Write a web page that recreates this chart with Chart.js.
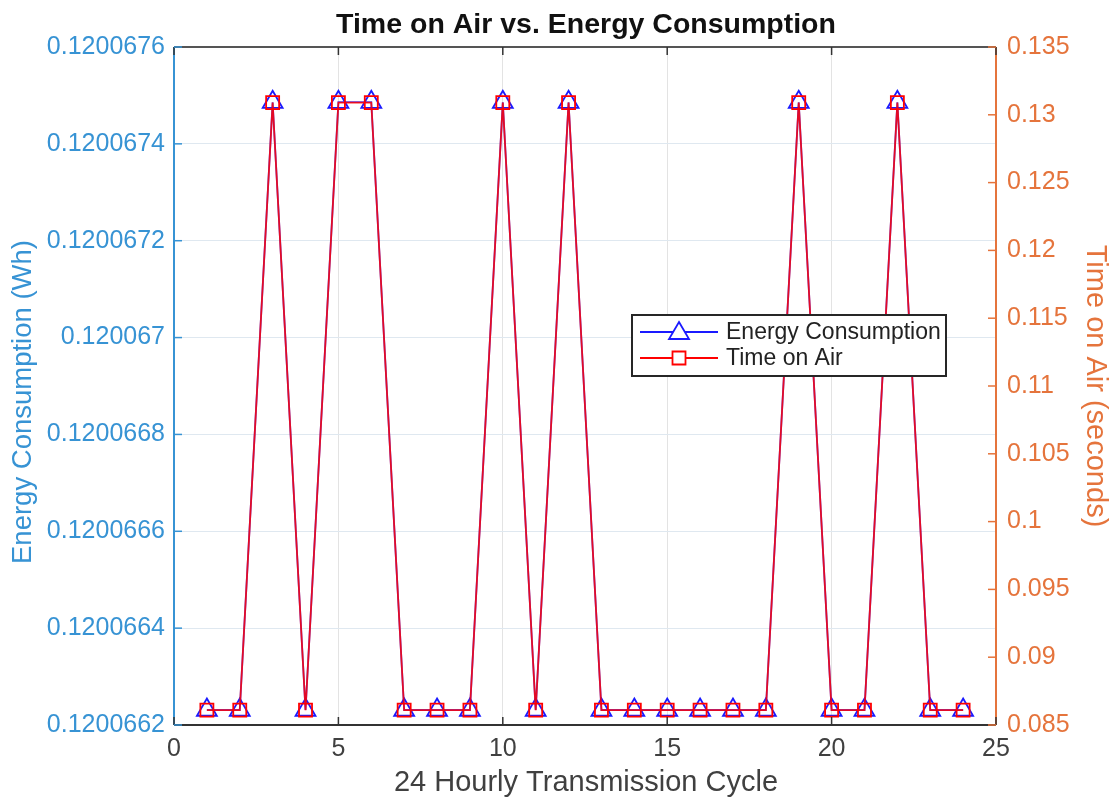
<!DOCTYPE html>
<html>
<head>
<meta charset="utf-8">
<script src="https://cdn.jsdelivr.net/npm/chart.js@4.4.1/dist/chart.umd.min.js"></script>
<style>
html,body{margin:0;padding:0;background:#fff;}
#wrap{width:1115px;height:799px;position:relative;}
</style>
</head>
<body>
<div id="wrap"><canvas id="c" width="1115" height="799"></canvas></div>
<script>
const hours = [1,2,3,4,5,6,7,8,9,10,11,12,13,14,15,16,17,18,19,20,21,22,23,24];
const energyWh = [0.120066231,0.120066231,0.120067486,0.120066231,0.120067486,0.120067486,0.120066231,0.120066231,0.120066231,0.120067486,0.120066231,0.120067486,0.120066231,0.120066231,0.120066231,0.120066231,0.120066231,0.120066231,0.120067486,0.120066231,0.120066231,0.120067486,0.120066231,0.120066231];
const timeOnAir = [0.0861,0.0861,0.1309,0.0861,0.1309,0.1309,0.0861,0.0861,0.0861,0.1309,0.0861,0.1309,0.0861,0.0861,0.0861,0.0861,0.0861,0.0861,0.1309,0.0861,0.0861,0.1309,0.0861,0.0861];
const xTicks = [0,5,10,15,20,25];
const leftTicks = [0.1200662,0.1200664,0.1200666,0.1200668,0.120067,0.1200672,0.1200674,0.1200676];
const rightTicks = [0.085,0.09,0.095,0.1,0.105,0.11,0.115,0.12,0.125,0.13,0.135];
const titleText = 'Time on Air vs. Energy Consumption';
const xTitle = '24 Hourly Transmission Cycle';
const yTitle = 'Energy Consumption (Wh)';
const y2Title = 'Time on Air (seconds)';
const seriesNames = ['Energy Consumption', 'Time on Air'];

const BLUE_AX = '#3793d4';
const ORANGE_AX = '#e5743c';
const FONT = '"Liberation Sans", Arial, sans-serif';

const frame = {
  id: 'frame',
  afterDraw(chart) {
    const {ctx, chartArea: a, scales} = chart;
    ctx.save();
    ctx.lineWidth = 2;
    ctx.strokeStyle = '#333333';
    ctx.beginPath(); ctx.moveTo(a.left, a.bottom); ctx.lineTo(a.right, a.bottom); ctx.stroke();
    ctx.strokeStyle = '#555555';
    ctx.beginPath(); ctx.moveTo(a.left, a.top); ctx.lineTo(a.right, a.top); ctx.stroke();
    ctx.strokeStyle = BLUE_AX;
    ctx.beginPath(); ctx.moveTo(a.left, a.top); ctx.lineTo(a.left, a.bottom); ctx.stroke();
    ctx.strokeStyle = ORANGE_AX;
    ctx.beginPath(); ctx.moveTo(a.right, a.top); ctx.lineTo(a.right, a.bottom); ctx.stroke();
    ctx.lineWidth = 1.5;
    ctx.strokeStyle = '#333333';
    xTicks.forEach(v => {
      const x = scales.x.getPixelForValue(v);
      ctx.beginPath(); ctx.moveTo(x, a.bottom); ctx.lineTo(x, a.bottom - 8); ctx.stroke();
      ctx.beginPath(); ctx.moveTo(x, a.top); ctx.lineTo(x, a.top + 8); ctx.stroke();
    });
    ctx.strokeStyle = BLUE_AX;
    leftTicks.forEach(v => {
      const y = scales.y.getPixelForValue(v);
      ctx.beginPath(); ctx.moveTo(a.left, y); ctx.lineTo(a.left + 8, y); ctx.stroke();
    });
    ctx.strokeStyle = ORANGE_AX;
    rightTicks.forEach(v => {
      const y = scales.y2.getPixelForValue(v);
      ctx.beginPath(); ctx.moveTo(a.right, y); ctx.lineTo(a.right - 8, y); ctx.stroke();
    });
    // title
    ctx.fillStyle = '#111111';
    ctx.font = 'bold 28.5px ' + FONT;
    ctx.textAlign = 'center';
    ctx.textBaseline = 'middle';
    ctx.fillText(titleText, 586, 25);
    // axis titles
    ctx.font = '29px ' + FONT;
    ctx.fillStyle = '#404040';
    ctx.fillText(xTitle, 586, 783);
    ctx.save();
    ctx.translate(23, 402);
    ctx.rotate(-Math.PI / 2);
    ctx.font = '27.5px ' + FONT;
    ctx.fillStyle = BLUE_AX;
    ctx.fillText(yTitle, 0, 0);
    ctx.restore();
    ctx.save();
    ctx.translate(1095, 386);
    ctx.rotate(Math.PI / 2);
    ctx.font = '29px ' + FONT;
    ctx.fillStyle = ORANGE_AX;
    ctx.fillText(y2Title, 0, 0);
    ctx.restore();
    // legend
    const lx = 632, ly = 315, lw = 314, lh = 61;
    ctx.fillStyle = '#ffffff';
    ctx.fillRect(lx, ly, lw, lh);
    ctx.lineWidth = 2;
    ctx.strokeStyle = '#262626';
    ctx.strokeRect(lx, ly, lw, lh);
    const items = [
      {label: seriesNames[0], color: '#1a1aff', shape: 'tri', y: ly + 17},
      {label: seriesNames[1], color: '#ff0000', shape: 'sq', y: ly + 43}
    ];
    items.forEach(it => {
      ctx.strokeStyle = it.color;
      ctx.lineWidth = 1.8;
      ctx.beginPath(); ctx.moveTo(lx + 8, it.y); ctx.lineTo(lx + 86, it.y); ctx.stroke();
      const cx = lx + 47;
      ctx.beginPath();
      if (it.shape === 'tri') {
        ctx.moveTo(cx, it.y - 10); ctx.lineTo(cx + 10, it.y + 7); ctx.lineTo(cx - 10, it.y + 7); ctx.closePath();
      } else {
        ctx.rect(cx - 6.5, it.y - 6.5, 13, 13);
      }
      ctx.fillStyle = '#ffffff';
      ctx.fill();
      ctx.stroke();
      ctx.fillStyle = '#222222';
      ctx.font = '23px ' + FONT;
      ctx.textAlign = 'left';
      ctx.fillText(it.label, lx + 94, it.y + 1);
    });
    ctx.restore();
  }
};

const fmt = v => parseFloat(Number(v).toFixed(8)).toString();

new Chart(document.getElementById('c'), {
  type: 'line',
  data: {
    datasets: [
      {
        label: seriesNames[0],
        data: hours.map((h, i) => ({x: h, y: energyWh[i]})),
        yAxisID: 'y',
        borderColor: 'rgba(40,40,255,0.85)',
        borderWidth: 1.8,
        pointStyle: 'triangle',
        pointRadius: 11.5,
        pointBorderWidth: 1.8,
        pointBorderColor: '#1a1aff',
        pointBackgroundColor: 'rgba(0,0,0,0)',
        tension: 0,
        order: 2
      },
      {
        label: seriesNames[1],
        data: hours.map((h, i) => ({x: h, y: timeOnAir[i]})),
        yAxisID: 'y2',
        borderColor: 'rgba(255,0,0,0.85)',
        borderWidth: 1.8,
        pointStyle: 'rect',
        pointRadius: 9.2,
        pointBorderWidth: 1.8,
        pointBorderColor: '#ff0000',
        pointBackgroundColor: 'rgba(0,0,0,0)',
        tension: 0,
        order: 1
      }
    ]
  },
  options: {
    responsive: false,
    animation: false,
    layout: {padding: {top: 47, left: 0, right: 0, bottom: 0}},
    plugins: {legend: {display: false}, tooltip: {enabled: false}, title: {display: false}},
    scales: {
      x: {
        type: 'linear', min: 0, max: 25,
        afterBuildTicks: s => { s.ticks = xTicks.map(v => ({value: v})); },
        afterFit: s => { s.height = 74; },
        grid: {color: '#e3e3e3', lineWidth: 1, drawTicks: false},
        border: {display: false},
        ticks: {color: '#404040', font: {family: FONT, size: 25}, padding: 9, callback: v => String(v), maxRotation: 0},
        title: {display: false}
      },
      y: {
        position: 'left', min: 0.1200662, max: 0.1200676,
        afterBuildTicks: s => { s.ticks = leftTicks.map(v => ({value: v})); },
        afterFit: s => { s.width = 174; },
        grid: {color: '#dfe8f0', lineWidth: 1, drawTicks: false},
        border: {display: false},
        ticks: {color: BLUE_AX, font: {family: FONT, size: 25}, padding: 9, callback: v => fmt(v)},
        title: {display: false}
      },
      y2: {
        position: 'right', min: 0.085, max: 0.135,
        afterBuildTicks: s => { s.ticks = rightTicks.map(v => ({value: v})); },
        afterFit: s => { s.width = 119; },
        grid: {display: false, drawTicks: false},
        border: {display: false},
        ticks: {color: ORANGE_AX, font: {family: FONT, size: 25}, padding: 11, callback: v => fmt(v)},
        title: {display: false}
      }
    }
  },
  plugins: [frame]
});
</script>
</body>
</html>
